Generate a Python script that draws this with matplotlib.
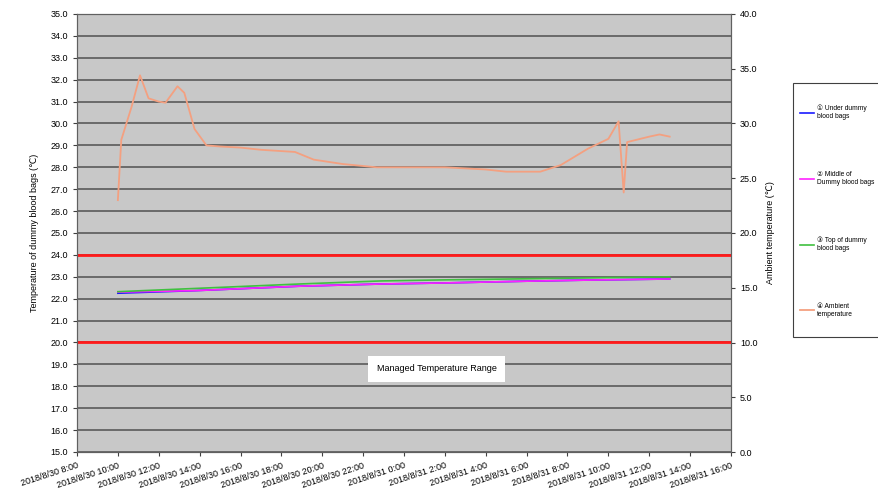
import matplotlib
matplotlib.use("Agg")
import matplotlib.pyplot as plt
import matplotlib.dates as mdates
from matplotlib.ticker import FuncFormatter, MultipleLocator
from matplotlib.patches import Rectangle
import pandas as pd

plt.rcParams['font.family'] = ['Liberation Sans', 'DejaVu Sans', 'Noto Sans CJK JP']

# ambient temperature (right axis)
amb_time = ["2018-08-30 10:00", "2018-08-30 10:10", "2018-08-30 10:40", "2018-08-30 11:05",
            "2018-08-30 11:30", "2018-08-30 12:00", "2018-08-30 12:20", "2018-08-30 12:55",
            "2018-08-30 13:15", "2018-08-30 13:45", "2018-08-30 14:20", "2018-08-30 15:00",
            "2018-08-30 16:00", "2018-08-30 17:00", "2018-08-30 18:40", "2018-08-30 19:35",
            "2018-08-30 21:00", "2018-08-30 22:40", "2018-08-31 02:00", "2018-08-31 04:00",
            "2018-08-31 05:00", "2018-08-31 06:40", "2018-08-31 07:40", "2018-08-31 09:00",
            "2018-08-31 10:00", "2018-08-31 10:30", "2018-08-31 10:45", "2018-08-31 10:55",
            "2018-08-31 12:00", "2018-08-31 12:30", "2018-08-31 13:00"]
amb_val = [23.0, 28.5, 31.5, 34.4,
           32.3, 32.0, 31.9, 33.4,
           32.8, 29.5, 28.0, 27.9,
           27.8, 27.6, 27.4, 26.7,
           26.3, 26.0, 26.0, 25.8,
           25.6, 25.6, 26.2, 27.7,
           28.6, 30.2, 23.7, 28.3,
           28.8, 29.0, 28.8]

# dummy blood bags (left axis)
bag_time = ["2018-08-30 10:00", "2018-08-30 13:50", "2018-08-30 18:50", "2018-08-30 22:50",
            "2018-08-31 02:00", "2018-08-31 06:00", "2018-08-31 09:00", "2018-08-31 13:00"]
under_val = [22.25, 22.37, 22.57, 22.67, 22.72, 22.80, 22.85, 22.90]
middle_val = [22.30, 22.37, 22.57, 22.67, 22.72, 22.80, 22.85, 22.90]
top_val = [22.32, 22.47, 22.67, 22.81, 22.86, 22.91, 22.95, 23.00]

labels = ["① Under dummy\nblood bags", "② Middle of\nDummy blood bags",
          "③ Top of dummy\nblood bags", "④ Ambient\ntemperature"]

amb_t = pd.to_datetime(amb_time)
bag_t = pd.to_datetime(bag_time)

fig = plt.figure(figsize=(8.79, 5.0), dpi=100)
ax = fig.add_axes([77 / 879, 48 / 500, 654 / 879, 438 / 500])
ax.set_facecolor("#c8c8c8")

ax.set_ylim(15, 35)
ax.yaxis.set_major_locator(MultipleLocator(1))
ax.yaxis.set_major_formatter(FuncFormatter(lambda v, p: f"{v:.1f}"))
ax.grid(axis="y", color="#505050", lw=1.1)
ax.set_axisbelow(True)

ax.axhline(24, color="#ff1a1a", lw=2, zorder=3)
ax.axhline(20, color="#ff1a1a", lw=2, zorder=3)

l1, = ax.plot(bag_t, under_val, color="#1a1aff", lw=1.2, zorder=4)
l2, = ax.plot(bag_t, middle_val, color="#ff22ff", lw=1.2, zorder=5)
l3, = ax.plot(bag_t, top_val, color="#40c040", lw=1.2, zorder=6)

ax.set_xlim(pd.Timestamp("2018-08-30 08:00"), pd.Timestamp("2018-08-31 16:00"))
ax.xaxis.set_major_locator(mdates.HourLocator(interval=2))
ax.xaxis.set_major_formatter(FuncFormatter(
    lambda v, p: (lambda d: f"{d.year}/{d.month}/{d.day} {d.hour}:{d.minute:02d}")(mdates.num2date(v))))
for lab in ax.get_xticklabels():
    lab.set_rotation(18)
    lab.set_ha("right")
    lab.set_rotation_mode("anchor")
ax.tick_params(axis="both", labelsize=6.5, length=3, color="#404040")
ax.set_ylabel("Temperature of dummy blood bags (℃)", fontsize=6.5, labelpad=8)

ax2 = ax.twinx()
ax2.set_ylim(0, 40)
ax2.yaxis.set_major_locator(MultipleLocator(5))
ax2.yaxis.set_major_formatter(FuncFormatter(lambda v, p: f"{v:.1f}"))
ax2.tick_params(axis="y", labelsize=6.5, length=3, color="#404040")
l4, = ax2.plot(amb_t, amb_val, color="#f4a080", lw=1.3)
ax2.set_ylabel("Ambient temperature (℃)", fontsize=6.5, labelpad=6)

for a in (ax, ax2):
    for s in a.spines.values():
        s.set_color("#606060")

ax.text(0.55, 0.19, "Managed Temperature Range", transform=ax.transAxes,
        ha="center", va="center", fontsize=6.5, zorder=7,
        bbox=dict(facecolor="white", edgecolor="none", pad=6))

# legend box (runs off the right edge like the original)
fig.patches.append(Rectangle((793 / 879, 1 - 337 / 500), 100 / 879, 254 / 500,
                             transform=fig.transFigure, facecolor="white",
                             edgecolor="#404040", lw=0.8))
fig.legend([l1, l2, l3, l4], labels, loc="upper left",
           bbox_to_anchor=(795 / 879, 1 - 100 / 500), fontsize=4.8,
           labelspacing=7.6, handlelength=2.2, handletextpad=0.4,
           borderpad=0.2, frameon=False)

fig.savefig("out.png", dpi=100)
